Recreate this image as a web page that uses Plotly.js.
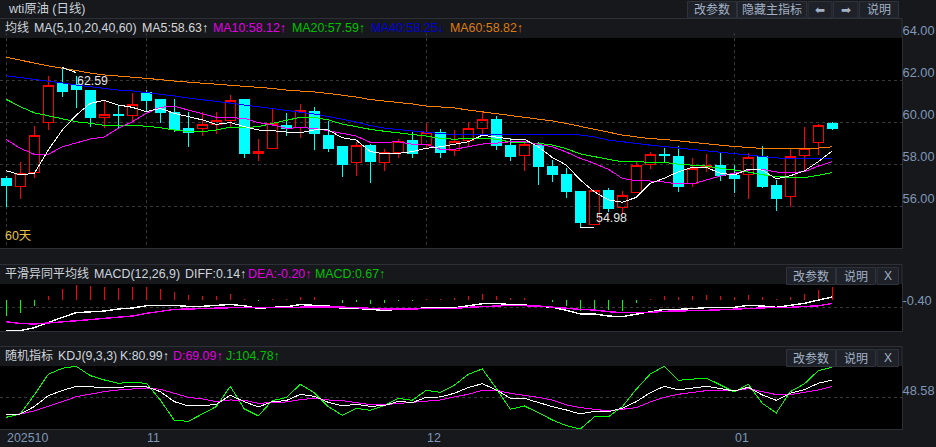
<!DOCTYPE html>
<html><head><meta charset="utf-8">
<script src="https://cdn.plot.ly/plotly-3.0.1.min.js"></script>
<style>html,body{margin:0;padding:0;background:#17181b;overflow:hidden}#c{width:936px;height:447px}
#c .scatterlayer path.js-line,#c .boxlayer path{shape-rendering:crispEdges}</style>
</head><body><div id="c"></div>
<script>
const candleOpen=[57.33,56.94,57.60,59.99,61.81,61.78,61.52,60.20,60.38,60.30,61.40,61.05,60.46,59.67,59.70,59.89,60.08,61.05,58.49,58.75,59.81,59.75,60.52,59.38,58.81,58.06,58.90,58.06,58.57,59.10,58.95,59.52,58.63,59.11,59.68,60.14,58.86,58.40,58.90,57.90,57.52,56.67,55.11,56.76,55.92,56.63,57.97,58.43,58.38,57.08,57.84,57.95,57.44,57.49,58.35,57.00,56.44,58.41,59.03,59.95];
const candleHigh=[57.43,58.08,59.81,62.18,62.59,62.19,61.52,61.01,60.81,61.38,61.52,61.05,61.10,60.49,60.48,60.48,61.29,61.05,59.19,60.62,60.43,60.86,60.71,60.06,58.81,59.06,58.95,58.70,59.19,59.54,59.95,59.67,59.62,60.00,60.52,60.29,59.22,59.00,59.06,58.19,57.81,56.71,56.76,56.84,56.71,58.11,58.57,58.76,58.86,58.30,58.48,58.57,57.95,58.52,58.86,57.24,58.76,59.75,59.89,60.00];
const candleLow=[55.97,56.35,57.35,59.63,61.20,60.68,59.78,59.73,59.67,60.01,60.49,59.95,59.54,58.82,59.35,59.43,59.70,58.30,58.16,58.75,59.35,59.25,58.67,58.57,57.38,57.43,57.11,57.68,58.29,58.29,58.75,58.29,58.38,58.82,59.41,58.67,58.14,57.67,57.00,57.14,56.38,54.98,55.11,55.71,55.56,56.63,57.76,58.11,56.67,56.90,57.62,57.19,56.62,56.33,56.86,55.76,55.95,57.63,58.43,59.62];
const candleClose=[56.97,57.56,59.37,61.75,61.44,61.57,60.20,60.37,60.30,60.84,61.01,60.43,59.62,59.51,59.86,60.05,61.03,58.49,58.60,59.94,59.70,60.56,59.43,58.76,58.00,58.89,58.10,58.56,59.06,58.48,59.52,58.57,59.08,59.70,60.13,58.86,58.38,58.92,57.90,57.52,56.67,55.20,56.76,55.90,56.51,57.95,58.46,58.40,56.95,57.80,57.94,57.43,57.33,58.32,56.95,56.38,58.37,58.75,59.84,59.71];
const ma5=[57.68,57.48,57.56,58.67,59.62,60.33,60.89,61.03,60.81,60.70,60.49,60.65,60.41,60.25,60.10,59.89,59.97,59.78,59.62,59.59,59.52,59.49,59.62,59.62,59.25,59.14,58.59,58.48,58.51,58.59,58.75,58.82,58.94,59.06,59.37,59.27,59.19,59.18,58.82,58.31,57.95,57.24,56.68,56.29,56.18,56.41,57.08,57.32,57.63,57.84,57.84,57.56,57.48,57.75,57.71,57.29,57.44,57.67,58.11,58.63];
const ma10=[59.16,58.75,58.46,58.46,58.82,59.01,59.19,59.29,59.70,60.01,60.41,60.70,60.75,60.57,60.38,60.22,60.20,60.18,59.97,59.86,59.70,59.73,59.70,59.59,59.46,59.33,59.03,59.03,59.06,58.94,58.94,58.70,58.70,58.82,58.95,58.99,59.06,59.06,58.94,58.82,58.57,58.27,58.03,57.75,57.32,57.20,57.19,57.14,57.05,57.05,57.24,57.43,57.56,57.71,57.75,57.62,57.60,57.63,57.90,58.12];
const ma20=[61.08,60.73,60.44,60.30,60.14,60.01,59.94,59.84,59.82,59.84,59.80,59.73,59.62,59.54,59.54,59.62,59.75,59.73,59.78,59.94,60.08,60.22,60.22,60.10,59.90,59.78,59.65,59.56,59.49,59.41,59.33,59.22,59.18,59.22,59.22,59.18,59.05,59.01,58.99,58.90,58.73,58.48,58.35,58.22,58.10,58.10,58.08,58.08,57.99,57.94,57.90,57.80,57.71,57.62,57.49,57.40,57.37,57.35,57.46,57.59];
const ma40=[62.20,62.12,62.05,61.94,61.86,61.76,61.67,61.58,61.52,61.48,61.41,61.33,61.24,61.14,61.07,61.00,60.90,60.81,60.74,60.64,60.55,60.48,60.38,60.26,60.14,60.00,59.83,59.71,59.64,59.57,59.52,59.45,59.40,59.40,59.40,59.40,59.40,59.40,59.40,59.42,59.42,59.38,59.29,59.14,59.05,58.98,58.90,58.83,58.76,58.69,58.62,58.55,58.48,58.43,58.36,58.29,58.26,58.24,58.24,58.25];
const ma60=[63.08,62.93,62.81,62.67,62.57,62.45,62.33,62.24,62.19,62.14,62.10,62.02,61.95,61.90,61.86,61.81,61.76,61.71,61.67,61.60,61.52,61.48,61.43,61.36,61.29,61.19,61.07,61.00,60.95,60.86,60.76,60.71,60.67,60.57,60.48,60.40,60.31,60.24,60.14,60.05,59.93,59.79,59.64,59.52,59.38,59.29,59.21,59.17,59.10,59.02,58.95,58.88,58.83,58.79,58.74,58.73,58.73,58.74,58.76,58.82];
const macdBar=[-0.86,-0.68,-0.32,0.19,0.56,0.77,0.72,0.67,0.61,0.67,0.67,0.56,0.40,0.25,0.19,0.19,0.30,0.05,-0.07,0.05,0.05,0.14,0.12,-0.03,-0.18,-0.10,-0.23,-0.18,-0.07,-0.07,0.03,0.03,0.11,0.19,0.32,0.19,0.11,0.11,-0.03,-0.12,-0.33,-0.60,-0.53,-0.54,-0.58,-0.18,0.03,0.19,0.14,0.19,0.25,0.19,0.14,0.25,0.14,0.03,0.14,0.30,0.51,0.67];
const diff=[-1.63,-1.63,-1.47,-1.18,-0.93,-0.68,-0.63,-0.60,-0.49,-0.44,-0.32,-0.32,-0.30,-0.35,-0.35,-0.30,-0.25,-0.32,-0.46,-0.40,-0.37,-0.26,-0.30,-0.33,-0.46,-0.46,-0.51,-0.56,-0.51,-0.49,-0.42,-0.42,-0.42,-0.32,-0.21,-0.19,-0.26,-0.28,-0.33,-0.40,-0.56,-0.75,-0.75,-0.86,-0.89,-0.77,-0.63,-0.51,-0.51,-0.46,-0.42,-0.42,-0.40,-0.30,-0.33,-0.40,-0.30,-0.19,-0.02,0.14];
const dea=[-1.16,-1.25,-1.28,-1.23,-1.18,-1.12,-1.05,-0.98,-0.93,-0.86,-0.72,-0.63,-0.51,-0.49,-0.46,-0.44,-0.40,-0.40,-0.40,-0.40,-0.40,-0.39,-0.37,-0.37,-0.39,-0.42,-0.47,-0.49,-0.49,-0.49,-0.47,-0.46,-0.46,-0.40,-0.37,-0.35,-0.30,-0.32,-0.33,-0.39,-0.46,-0.51,-0.54,-0.63,-0.68,-0.68,-0.67,-0.61,-0.60,-0.60,-0.56,-0.53,-0.49,-0.46,-0.44,-0.40,-0.40,-0.37,-0.32,-0.20];
const kLine=[15.6,17.4,31.2,51.7,61.1,69.2,67.9,67.3,67.3,68.5,68.5,59.2,40.5,32.4,32.4,35.5,52.3,40.5,30.5,40.5,42.4,54.2,50.5,39.2,32.4,35.5,31.8,33.0,41.1,38.6,48.6,49.2,56.1,66.7,74.1,62.3,46.7,46.7,38.6,31.2,24.9,17.4,22.4,21.8,28.0,40.5,57.3,69.2,62.3,65.4,69.2,64.8,60.4,67.3,53.0,43.0,56.1,62.9,74.8,80.99];
const dLine=[16.8,17.4,23.1,31.2,40.5,49.8,54.8,59.2,62.3,64.2,66.0,63.6,56.1,48.6,45.5,40.5,43.6,43.0,37.4,38.6,39.9,44.2,46.7,43.6,42.4,38.6,34.9,34.9,37.4,38.6,41.1,43.6,49.2,54.2,61.7,61.7,56.1,53.0,48.6,43.6,34.3,29.3,25.5,23.1,26.2,29.3,39.9,48.6,54.2,57.3,61.0,61.7,61.0,64.8,59.2,53.6,53.6,57.9,62.3,69.09];
const jLine=[11.2,17.4,53.0,91.6,102.8,106.5,89.1,81.0,74.8,76.6,74.8,43.6,5.6,3.7,17.4,31.2,69.2,26.8,13.7,42.4,48.0,72.9,57.3,31.2,15.0,28.0,24.3,33.0,46.7,43.0,61.7,57.9,71.0,91.6,101.6,65.4,26.2,32.4,19.9,6.2,-4.4,-10.6,11.8,11.8,31.2,63.6,92.2,106.5,80.4,82.9,84.7,71.7,58.6,72.9,37.4,19.3,59.2,73.5,98.4,104.78];
const priceTicks=[64,62,60,58,56];
const priceTickText=['64.00','62.00','60.00','58.00','56.00'];
const macdTick=[-0.40];
const macdTickText=['-0.40'];
const kdjTick=[48.58];
const kdjTickText=['48.58'];
const dateTickPos=[0,10,30,52];
const dateTickText=['202510','11','12','01'];
const highLabel='62.59', lowLabel='54.98';

const W=936,H=447,PANEL_R=902;
const idx=candleOpen.map((_,i)=>i);
const dom=(t,b)=>[1-b/H,1-t/H];
const px=x=>x/W, py=y=>1-y/H;
const xr=[-0.45,63.98];
const FONT='"Liberation Sans","Noto Sans CJK SC",sans-serif';
const TICK='#7f97b8', BTN='#a3b1c6', LINE='#2d3036', GRID='#383838';

const line=(x,y,color,xa,ya,w)=>({type:'scatter',mode:'lines',x,y,xaxis:xa,yaxis:ya,hoverinfo:'skip',showlegend:false,line:{color,width:w||1}});
const traces=[
 {type:'candlestick',x:idx,open:candleOpen,high:candleHigh,low:candleLow,close:candleClose,xaxis:'x',yaxis:'y',showlegend:false,hoverinfo:'skip',
  increasing:{line:{color:'#ff0000',width:1},fillcolor:'rgba(0,0,0,0)'},
  decreasing:{line:{color:'#00ffff',width:1},fillcolor:'#00ffff'},whiskerwidth:0},
 line(idx,ma60,'#ff8000','x','y'),
 line(idx,ma40,'#0000ff','x','y'),
 line(idx,ma20,'#00ff00','x','y'),
 line(idx,ma10,'#ff00ff','x','y'),
 line(idx,ma5,'#ffffff','x','y'),
 line([4,5],[62.59,62.35],'#ffffff','x','y',1),
 line([41,42],[54.98,54.98],'#ffffff','x','y',1),
 {type:'bar',x:idx,y:macdBar,base:0,width:0.1,xaxis:'x2',yaxis:'y2',showlegend:false,hoverinfo:'skip',
  marker:{color:macdBar.map(v=>v>=0?'#ff0000':'#00ff00'),line:{width:0}}},
 line(idx,diff,'#ffffff','x2','y2',1.4),
 line(idx,dea,'#ff00ff','x2','y2',1.4),
 line(idx,jLine,'#00ff00','x3','y3'),
 line(idx,dLine,'#ff00ff','x3','y3'),
 line(idx,kLine,'#ffffff','x3','y3')
];

const annotations=[];
const SZ=12.4;
const T=(x,y,text,color,size,anchor)=>annotations.push({xref:'paper',yref:'paper',x:px(x),y:py(y),text,showarrow:false,xanchor:anchor||'left',yanchor:'middle',
  font:{family:FONT,size:size||SZ,color},borderpad:0,align:'left'});
T(7,9,'wti原油 (日线)','#c8d0da');
T(4,28,'均线','#cdd5de',12);
T(32.5,28,'MA(5,10,20,40,60)','#cdd5de');
T(141,28,'MA5:58.63↑','#d6d6d6');
T(212,28,'MA10:58.12↑','#e000e0');
T(291,28,'MA20:57.59↑','#00c000');
T(370,28,'MA40:58.25↓','#0000d8');
T(449,28,'MA60:58.82↑','#dd7a10');
T(4,236,'60天','#e6c34a');
T(4,273.5,'平滑异同平均线','#cdd5de',12);
T(92.5,273.5,'MACD(12,26,9)','#cdd5de');
T(184,273.5,'DIFF:0.14↑','#cdd5de');
T(247,273.5,'DEA:-0.20↑','#e000e0');
T(314,273.5,'MACD:0.67↑','#00c000');
T(4,355.5,'随机指标','#cdd5de',12);
T(56.5,355.5,'KDJ(9,3,3)','#cdd5de');
T(119,355.5,'K:80.99↑','#cdd5de');
T(172,355.5,'D:69.09↑','#e000e0');
T(225,355.5,'J:104.78↑','#00c000');
annotations.push({xref:'x',yref:'y',x:5.0,y:61.95,text:highLabel,showarrow:false,xanchor:'left',yanchor:'middle',font:{family:FONT,size:SZ,color:'#e6e6e6'},borderpad:0});
annotations.push({xref:'x',yref:'y',x:42.05,y:55.43,text:lowLabel,showarrow:false,xanchor:'left',yanchor:'middle',font:{family:FONT,size:SZ,color:'#e6e6e6'},borderpad:0});
dateTickPos.forEach((p,i)=>annotations.push({xref:'x3',yref:'paper',x:p,y:py(438),text:dateTickText[i],showarrow:false,xanchor:'left',yanchor:'middle',font:{family:FONT,size:SZ,color:TICK},borderpad:0}));

const shapes=[];
const R=(x0,y0,x1,y1,fill,lc)=>shapes.push({type:'rect',xref:'paper',yref:'paper',x0:px(x0),x1:px(x1),y0:py(y0),y1:py(y1),fillcolor:fill,line:{color:lc||fill,width:1},layer:'below'});
const HL=(y)=>shapes.push({type:'line',xref:'paper',yref:'paper',x0:0,x1:px(PANEL_R),y0:py(y),y1:py(y),line:{color:LINE,width:1},layer:'below'});
const VL=(y0,y1)=>shapes.push({type:'line',xref:'paper',yref:'paper',x0:px(PANEL_R),x1:px(PANEL_R),y0:py(y0),y1:py(y1),line:{color:LINE,width:1},layer:'below'});
HL(18.5);HL(264.5);HL(346.5);
VL(18.5,38);VL(264.5,284);VL(346.5,366);
dateTickPos.forEach(p=>shapes.push({type:'line',xref:'x',yref:'paper',x0:p,x1:p,y0:py(33),y1:py(38),line:{color:GRID,width:1,dash:'dot'},layer:'above'}));
const btn=(x0,x1,y0,y1,text,font)=>{R(x0,y0,x1,y1,'#1e2228','#2e333b');
  annotations.push({xref:'paper',yref:'paper',x:px((x0+x1)/2),y:py((y0+y1)/2),text,showarrow:false,xanchor:'center',yanchor:'middle',font:{family:font||FONT,size:12,color:BTN},borderpad:0});};
btn(687.5,736.5,1.5,18,'改参数');
btn(737.5,806.5,1.5,18,'隐藏主指标');
btn(808,832,1.5,18,'⬅','DejaVu Sans');
btn(833.5,858,1.5,18,'➡','DejaVu Sans');
btn(859.5,898.5,1.5,18,'说明');
btn(786.5,835.5,267.5,284.5,'改参数');
btn(836.5,875.5,267.5,284.5,'说明');
btn(877,898.5,267.5,284.5,'X');
btn(786.5,835.5,349.5,366.5,'改参数');
btn(836.5,875.5,349.5,366.5,'说明');
btn(877,898.5,349.5,366.5,'X');

const xDom=[0,PANEL_R/W];
const xBase={domain:xDom,range:xr,type:'linear',fixedrange:true,zeroline:false,showline:true,linecolor:LINE,linewidth:1,ticks:'',showticklabels:false,showgrid:false};
const yBase={side:'right',type:'linear',fixedrange:true,zeroline:false,showline:true,linecolor:LINE,linewidth:1,ticks:'',tickmode:'array',
  tickfont:{family:FONT,size:12.8,color:TICK},showgrid:true,gridcolor:GRID,gridwidth:1,griddash:'dot',ticklabelshift:-7,ticklabelstandoff:-3};
const layout={width:W,height:H,autosize:false,margin:{l:0,r:0,t:0,b:0,pad:0},paper_bgcolor:'#17181b',plot_bgcolor:'#000000',showlegend:false,
  bargap:0,boxgap:0.2,boxgroupgap:0.1,dragmode:false,hovermode:false,annotations,shapes,
  xaxis:Object.assign({},xBase,{anchor:'y',rangeslider:{visible:false},tickmode:'array',tickvals:dateTickPos,showgrid:true,gridcolor:GRID,gridwidth:1,griddash:'dot'}),
  xaxis2:Object.assign({},xBase,{anchor:'y2'}),
  xaxis3:Object.assign({},xBase,{anchor:'y3'}),
  yaxis:Object.assign({},yBase,{anchor:'x',domain:dom(38,248),range:[54,64],tickvals:priceTicks,ticktext:priceTickText}),
  yaxis2:Object.assign({},yBase,{anchor:'x2',domain:dom(284,331),range:[-1.647,0.826],tickvals:macdTick,ticktext:macdTickText}),
  yaxis3:Object.assign({},yBase,{anchor:'x3',domain:dom(366,429),range:[-10.7,107.1],tickvals:kdjTick,ticktext:kdjTickText})
};
Plotly.newPlot('c',traces,layout,{displayModeBar:false,staticPlot:true});
</script></body></html>
